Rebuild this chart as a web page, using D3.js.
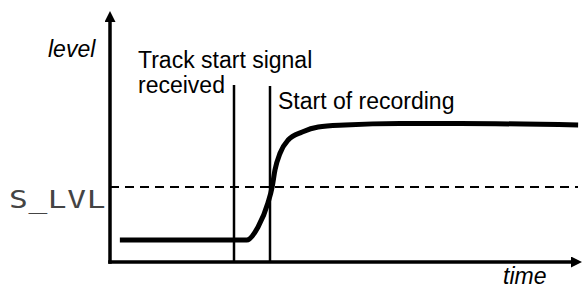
<!DOCTYPE html>
<html>
<head>
<meta charset="utf-8">
<script src="https://cdn.jsdelivr.net/npm/d3@7"></script>
<style>
  body { margin: 0; background: #fff; }
</style>
</head>
<body>
<div id="chart"></div>
<script>
// set the dimensions of the graph
const width = 586
const height = 288

// level curve (time, level)
const curveTime  = [2.1, 29.1, 31.5, 33.6, 34.5, 35.1, 36.2, 37.9, 40.9, 44.3, 50.0, 61.7, 74.5, 99.6]
const curveLevel = [8.8, 8.8, 14.0, 23.6, 30.0, 36.8, 43.6, 48.8, 52.0, 54.0, 54.8, 55.4, 55.4, 54.8]

// threshold and event markers
const thresholdLevel = 30
const thresholdLabel = "S_LVL"
const eventTimes  = [26.4, 34.0]
const eventTop    = [70.8, 70.4]
const eventLabels = [["Track start signal", "received"], ["Start of recording"]]
const axisLabels  = ["level", "time"]

const points = curveTime.map((t, i) => ({ t: t, v: curveLevel[i] }))

// append the svg object to the body of the page
const svg = d3.select("#chart")
  .append("svg")
    .attr("width", width)
    .attr("height", height)

const x = d3.scaleLinear()
  .domain([0, 100])
  .range([110, 580])

const y = d3.scaleLinear()
  .domain([0, 100])
  .range([262, 12])

const font = "'Liberation Sans', Arial, Helvetica, sans-serif"

// arrow heads
const defs = svg.append("defs")
defs.append("marker")
    .attr("id", "arrow")
    .attr("viewBox", "0 0 10 10")
    .attr("refX", 0)
    .attr("refY", 5)
    .attr("markerUnits", "userSpaceOnUse")
    .attr("markerWidth", 15)
    .attr("markerHeight", 11)
    .attr("orient", "auto")
  .append("path")
    .attr("d", "M0,0 L10,5 L0,10 Z")
    .attr("fill", "#000")

// dashed threshold line
svg.append("line")
    .attr("x1", x(0))
    .attr("x2", x(99.6))
    .attr("y1", Math.round(y(thresholdLevel)))
    .attr("y2", Math.round(y(thresholdLevel)))
    .attr("stroke", "#000")
    .attr("stroke-width", 2)
    .attr("stroke-dasharray", "9,6")
    .attr("shape-rendering", "crispEdges")

// dot-matrix style label, stretched to match the wide glyphs
svg.append("text")
    .attr("transform", `translate(9,${y(thresholdLevel) + 21}) scale(1.3,1)`)
    .text(thresholdLabel)
    .attr("font-family", "'DejaVu Sans Mono', monospace")
    .attr("font-size", 24)
    .attr("letter-spacing", 0.5)
    .attr("fill", "#444")

// event lines
svg.selectAll(".event")
  .data(eventTimes)
  .join("line")
    .attr("class", "event")
    .attr("x1", d => Math.round(x(d)))
    .attr("x2", d => Math.round(x(d)))
    .attr("y1", (d, i) => y(eventTop[i]))
    .attr("y2", y(0))
    .attr("stroke", "#000")
    .attr("stroke-width", 2.5)

// event labels
const labelPos = [[138, 68], [278, 109]]
eventLabels.forEach((lines, i) => {
  const t = svg.append("text")
      .attr("x", labelPos[i][0])
      .attr("y", labelPos[i][1])
      .attr("font-family", font)
      .attr("font-size", 23)
      .attr("fill", "#000")
  lines.forEach((s, j) => {
    t.append("tspan")
      .attr("x", labelPos[i][0])
      .attr("dy", j === 0 ? 0 : 25)
      .text(s)
  })
})

// level curve
const line = d3.line()
  .x(d => x(d.t))
  .y(d => y(d.v))
  .curve(d3.curveMonotoneX)

svg.append("path")
    .datum(points)
    .attr("d", line)
    .attr("fill", "none")
    .attr("stroke", "#000")
    .attr("stroke-width", 5)

// axes with arrows
svg.append("line")
    .attr("x1", x(0))
    .attr("x2", x(0))
    .attr("y1", y(0) + 1.75)
    .attr("y2", 22)
    .attr("stroke", "#000")
    .attr("stroke-width", 3.5)
    .attr("marker-end", "url(#arrow)")

svg.append("line")
    .attr("x1", x(0) - 1.75)
    .attr("x2", 571)
    .attr("y1", y(0))
    .attr("y2", y(0))
    .attr("stroke", "#000")
    .attr("stroke-width", 3.5)
    .attr("marker-end", "url(#arrow)")

// axis titles
svg.append("text")
    .attr("x", 48)
    .attr("y", 57)
    .text(axisLabels[0])
    .attr("font-family", font)
    .attr("font-style", "italic")
    .attr("font-size", 23)

svg.append("text")
    .attr("x", 503)
    .attr("y", 284)
    .text(axisLabels[1])
    .attr("font-family", font)
    .attr("font-style", "italic")
    .attr("font-size", 23)
</script>
</body>
</html>
